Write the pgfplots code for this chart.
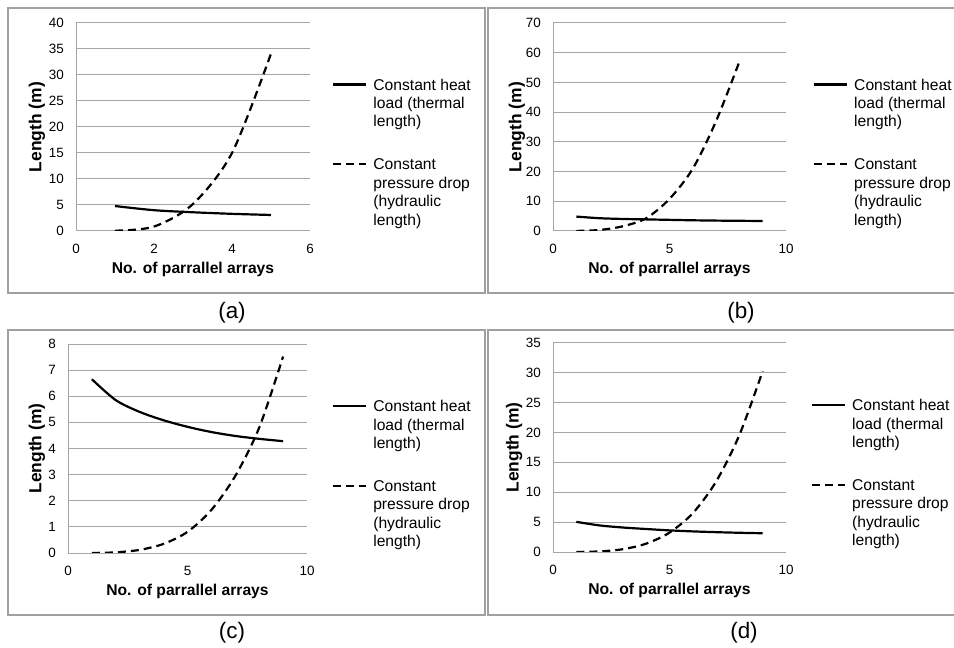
\documentclass[border=0pt]{standalone}
\usepackage{fontspec}
\setmainfont{Liberation Sans}
\usepackage{pgfplots}
\pgfplotsset{compat=1.18}

\definecolor{gridgray}{HTML}{A6A6A6}
\definecolor{boxgray}{HTML}{A0A0A0}

\pgfplotsset{
  panel/.style={
    scale only axis, anchor=south west,
    axis x line=bottom, axis y line=left,
    axis line style={gridgray, line width=1bp, -},
    ymajorgrids, grid style={gridgray, line width=1bp},
    major tick length=0pt,
    tick label style={font=\fontsize{13.5}{16}\selectfont},
    /pgf/number format/assume math mode=true,
    xticklabel style={anchor=center, yshift=-18bp},
    yticklabel style={anchor=east, inner sep=0pt, xshift=-12bp},
    xlabel={No. of parrallel arrays},
    ylabel={Length (m)},
    xlabel style={font=\fontsize{15.7}{18}\selectfont\bfseries,
      at={(axis description cs:0.5,0)}, anchor=center, yshift=-38bp},
    ylabel style={font=\fontsize{17.5}{20}\selectfont\bfseries, anchor=center},
    xmin=0, ymin=0,
    legend cell align=left,
    legend style={draw=none, fill=none, anchor=north west,
      inner sep=0pt, outer sep=0pt,
      font=\fontsize{15.7}{18.5}\selectfont,
      nodes={align=left, inner sep=0pt},
      row sep=30.5bp, column sep=6bp},
  },
  % legend sample raised to the first line of a 3-line entry
  thermal/.style={black, solid, line width=2.2bp, smooth, no markers,
    legend image code/.code={\draw[##1] (0bp,19bp) -- (33bp,19bp);}},
  % and to the first line of a 4-line entry
  hydraulic/.style={black, dash pattern=on 8bp off 5bp, line width=2.2bp, smooth, no markers,
    legend image code/.code={\draw[##1] (0bp,28.5bp) -- (33bp,28.5bp);}},
}

\begin{document}
\begin{tikzpicture}
\useasboundingbox (0bp,0bp) rectangle (954bp,648bp);
\clip (0bp,0bp) rectangle (954bp,648bp);

% panel frames
\draw[boxgray, line width=1.2bp] (8bp,640bp) rectangle (485bp,355bp);
\draw[boxgray, line width=1.2bp] (488bp,640bp) rectangle (970bp,355bp);
\draw[boxgray, line width=1.2bp] (8bp,318bp) rectangle (485bp,33bp);
\draw[boxgray, line width=1.2bp] (488bp,318bp) rectangle (970bp,33bp);

% (a)
\begin{axis}[panel, at={(76bp,417bp)}, width=234bp, height=208bp,
  xmax=6, ymax=40, xtick={0,2,4,6}, ytick distance=5,
  ylabel style={at={(axis description cs:-0.167,0.5)}},
  legend style={at={(axis description cs:1.095,0.732)}}]
\addplot[thermal] coordinates {(1,4.8) (2,4.0) (3,3.6) (4,3.3) (5,3.08)};
\addlegendentry{Constant heat\\load (thermal\\length)}
\addplot[hydraulic] coordinates {(1,0.06) (2,0.85) (3,5.2) (4,15) (5,34.1)};
\addlegendentry{Constant\\pressure drop\\(hydraulic\\length)}
\end{axis}

% (b)
\begin{axis}[panel, at={(553bp,417bp)}, width=233bp, height=208bp,
  xmax=10, ymax=70, xtick={0,5,10}, ytick distance=10,
  ylabel style={at={(axis description cs:-0.155,0.5)}},
  legend style={at={(axis description cs:1.116,0.732)}}]
\addplot[thermal] coordinates {(1,4.85) (2,4.3) (3,4.05) (4,3.9) (5,3.75) (6,3.6) (7,3.5) (8,3.43) (9,3.37)};
\addlegendentry{Constant heat\\load (thermal\\length)}
\addplot[hydraulic] coordinates {(1,0.02) (2,0.35) (3,1.6) (4,4.3) (5,10.8) (6,21) (7,37) (8,57)};
\addlegendentry{Constant\\pressure drop\\(hydraulic\\length)}
\end{axis}

% (c)
\begin{axis}[panel, at={(68bp,95bp)}, width=239bp, height=209bp,
  xmax=10, ymax=8, xtick={0,5,10}, ytick distance=1,
  ylabel style={at={(axis description cs:-0.13,0.5)}},
  legend style={at={(axis description cs:1.105,0.73)}}]
\addplot[thermal] coordinates {(1,6.65) (2,5.85) (3,5.4) (4,5.08) (5,4.83) (6,4.63) (7,4.48) (8,4.37) (9,4.28)};
\addlegendentry{Constant heat\\load (thermal\\length)}
\addplot[hydraulic] coordinates {(1,0.002) (2,0.025) (3,0.12) (4,0.35) (5,0.81) (6,1.65) (7,2.95) (8,4.8) (9,7.52)};
\addlegendentry{Constant\\pressure drop\\(hydraulic\\length)}
\end{axis}

% (d)
\begin{axis}[panel, at={(553bp,96bp)}, width=233bp, height=209bp,
  xmax=10, ymax=35, xtick={0,5,10}, ytick distance=5,
  ylabel style={at={(axis description cs:-0.167,0.5)}},
  legend style={at={(axis description cs:1.107,0.73)}}]
\addplot[thermal] coordinates {(1,5.05) (2,4.45) (3,4.1) (4,3.85) (5,3.62) (6,3.45) (7,3.32) (8,3.22) (9,3.14)};
\addlegendentry{Constant heat\\load (thermal\\length)}
\addplot[hydraulic] coordinates {(1,0.01) (2,0.1) (3,0.47) (4,1.4) (5,3.25) (6,6.5) (7,11.8) (8,19.6) (9,30.3)};
\addlegendentry{Constant\\pressure drop\\(hydraulic\\length)}
\end{axis}

% panel captions
\node[font=\fontsize{22.5}{26}\selectfont] at (232bp,335bp) {(a)};
\node[font=\fontsize{22.5}{26}\selectfont] at (741bp,335bp) {(b)};
\node[font=\fontsize{22.5}{26}\selectfont] at (232bp,15bp) {(c)};
\node[font=\fontsize{22.5}{26}\selectfont] at (744bp,15bp) {(d)};
\end{tikzpicture}
\end{document}
